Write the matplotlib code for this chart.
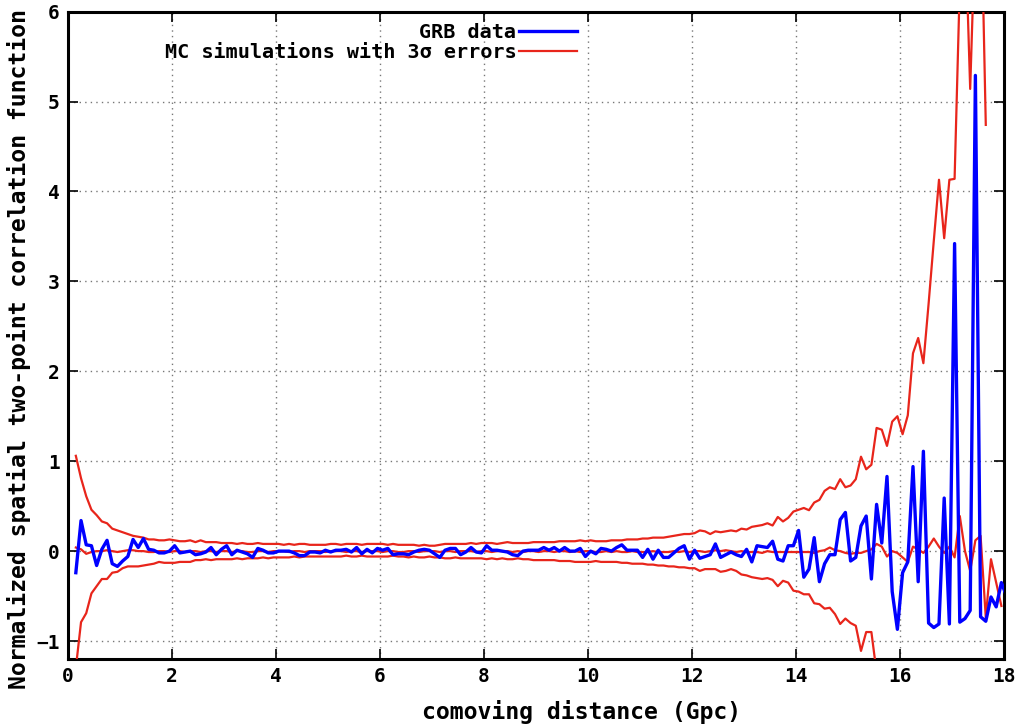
import numpy as np
import matplotlib
matplotlib.use('Agg')
import matplotlib.pyplot as plt

plt.rcParams['font.family'] = ['DejaVu Sans Mono']

# bin centres of the comoving distance grid (Gpc)
distance = np.round(np.arange(0.15, 18.1, 0.1), 2)

# GRB data, one row per Gpc
grb_data = [
    -0.24, 0.34, 0.07, 0.06, -0.16, 0.02, 0.12, -0.14, -0.17, -0.11,
    -0.06, 0.13, 0.04, 0.14, 0.02, 0.01, -0.02, -0.02, 0.00, 0.06,
    -0.02, -0.01, 0.00, -0.04, -0.03, -0.01, 0.04, -0.04, 0.02, 0.06,
    -0.04, 0.01, -0.01, -0.03, -0.07, 0.03, 0.01, -0.02, -0.02, 0.00,
    0.00, 0.00, -0.02, -0.05, -0.05, -0.01, -0.01, -0.02, 0.01, -0.01,
    0.01, 0.01, 0.02, -0.01, 0.04, -0.03, 0.02, -0.02, 0.03, 0.01,
    0.03, -0.04, -0.03, -0.03, -0.04, -0.01, 0.01, 0.02, 0.01, -0.03,
    -0.07, 0.01, 0.03, 0.03, -0.04, -0.01, 0.04, -0.01, -0.02, 0.06,
    0.01, 0.01, 0.00, -0.01, -0.04, -0.05, 0.00, 0.01, 0.01, 0.01,
    0.04, 0.01, 0.04, 0.00, 0.04, 0.00, 0.00, 0.03, -0.06, 0.00,
    -0.03, 0.03, 0.02, 0.00, 0.04, 0.07, 0.01, 0.01, 0.01, -0.07,
    0.02, -0.09, 0.01, -0.07, -0.07, -0.02, 0.03, 0.06, -0.09, 0.01,
    -0.08, -0.06, -0.04, 0.08, -0.07, -0.04, -0.01, -0.04, -0.06, 0.02,
    -0.12, 0.06, 0.05, 0.04, 0.11, -0.09, -0.11, 0.06, 0.06, 0.23,
    -0.29, -0.20, 0.15, -0.34, -0.14, -0.04, -0.04, 0.35, 0.43, -0.11,
    -0.07, 0.28, 0.39, -0.31, 0.52, 0.09, 0.83, -0.45, -0.87, -0.24,
    -0.12, 0.94, -0.34, 1.11, -0.80, -0.85, -0.81, 0.59, -0.81, 3.42,
    -0.79, -0.75, -0.66, 5.29, -0.73, -0.78, -0.51, -0.62, -0.35, -0.50,
]

# MC simulations: mean and +/- 3 sigma envelopes
mc_upper = [
    1.06, 0.81, 0.61, 0.46, 0.40, 0.33, 0.31, 0.25, 0.23, 0.21,
    0.19, 0.17, 0.16, 0.15, 0.13, 0.13, 0.12, 0.12, 0.13, 0.12,
    0.11, 0.11, 0.12, 0.10, 0.12, 0.10, 0.10, 0.10, 0.09, 0.09,
    0.09, 0.08, 0.09, 0.08, 0.08, 0.09, 0.08, 0.08, 0.08, 0.08,
    0.07, 0.08, 0.07, 0.08, 0.08, 0.07, 0.07, 0.07, 0.07, 0.08,
    0.08, 0.07, 0.08, 0.08, 0.08, 0.07, 0.08, 0.08, 0.08, 0.08,
    0.07, 0.08, 0.07, 0.07, 0.07, 0.07, 0.06, 0.07, 0.06, 0.06,
    0.07, 0.08, 0.08, 0.08, 0.08, 0.08, 0.09, 0.08, 0.09, 0.09,
    0.09, 0.08, 0.09, 0.10, 0.09, 0.09, 0.09, 0.09, 0.10, 0.10,
    0.10, 0.10, 0.10, 0.11, 0.11, 0.11, 0.11, 0.12, 0.11, 0.12,
    0.11, 0.11, 0.11, 0.12, 0.12, 0.12, 0.13, 0.13, 0.13, 0.14,
    0.14, 0.15, 0.15, 0.15, 0.16, 0.17, 0.18, 0.19, 0.19, 0.20,
    0.23, 0.22, 0.19, 0.22, 0.21, 0.22, 0.23, 0.22, 0.25, 0.24,
    0.27, 0.28, 0.29, 0.31, 0.285, 0.38, 0.33, 0.37, 0.44, 0.46,
    0.48, 0.455, 0.54, 0.57, 0.67, 0.71, 0.69, 0.80, 0.71, 0.73,
    0.80, 1.05, 0.91, 0.96, 1.37, 1.35, 1.17, 1.44, 1.50, 1.30,
    1.51, 2.20, 2.37, 2.09, 2.75, 3.45, 4.13, 3.48, 4.13, 4.14,
    6.3, 7.0, 5.14, 7.0, 7.5, 4.74, np.nan, np.nan, np.nan, np.nan,
]

mc_mean = [
    0.04, 0.02, -0.03, -0.01, 0.00, 0.00, 0.01, 0.00, -0.01, 0.00,
    0.01, 0.01, 0.00, 0.00, -0.01, -0.01, 0.00, 0.00, -0.01, 0.00,
    0.00, -0.01, 0.00, 0.00, -0.01, 0.00, 0.00, -0.01, 0.00, 0.00,
    -0.01, 0.00, 0.00, -0.01, -0.01, 0.00, 0.00, -0.01, 0.00, 0.00,
    0.00, -0.01, 0.00, 0.00, -0.01, 0.00, 0.00, 0.00, -0.01, 0.00,
    0.00, 0.00, -0.01, 0.00, 0.00, -0.01, 0.00, 0.00, 0.00, -0.01,
    0.00, 0.00, -0.01, -0.01, 0.00, 0.00, -0.01, 0.00, 0.00, 0.00,
    -0.01, 0.00, 0.00, -0.01, 0.00, 0.00, 0.00, -0.01, 0.00, 0.00,
    -0.01, 0.00, 0.00, 0.00, -0.01, 0.00, -0.01, 0.00, 0.00, -0.01,
    0.00, 0.00, -0.01, 0.00, 0.00, -0.01, 0.00, -0.01, 0.00, 0.00,
    -0.01, -0.01, 0.00, -0.01, 0.00, -0.01, -0.01, 0.00, -0.01, -0.01,
    -0.01, 0.00, -0.01, -0.01, -0.01, 0.00, -0.01, 0.00, -0.01, 0.00,
    0.00, -0.01, 0.00, 0.01, 0.00, 0.01, 0.00, -0.01, 0.00, -0.01,
    -0.01, -0.01, -0.02, 0.00, -0.01, -0.01, -0.01, -0.01, -0.01, -0.01,
    -0.01, -0.01, -0.02, 0.00, 0.01, 0.04, 0.01, 0.00, -0.02, -0.03,
    -0.02, -0.02, 0.00, 0.02, 0.08, 0.05, -0.06, 0.00, -0.02, -0.07,
    -0.12, 0.05, 0.02, -0.02, 0.05, 0.14, 0.05, -0.02, 0.05, -0.07,
    0.39, 0.00, -0.22, 0.12, 0.17, -0.74, -0.09, -0.35, -0.61, np.nan,
]

mc_lower = [
    -1.30, -0.79, -0.69, -0.47, -0.39, -0.31, -0.31, -0.24, -0.23, -0.19,
    -0.17, -0.17, -0.17, -0.16, -0.15, -0.14, -0.12, -0.13, -0.13, -0.13,
    -0.12, -0.12, -0.12, -0.10, -0.10, -0.09, -0.10, -0.09, -0.09, -0.09,
    -0.09, -0.08, -0.09, -0.08, -0.08, -0.08, -0.07, -0.08, -0.07, -0.07,
    -0.07, -0.07, -0.06, -0.07, -0.06, -0.06, -0.06, -0.06, -0.06, -0.06,
    -0.06, -0.06, -0.05, -0.06, -0.06, -0.05, -0.06, -0.06, -0.06, -0.06,
    -0.06, -0.05, -0.06, -0.06, -0.07, -0.06, -0.07, -0.07, -0.06, -0.07,
    -0.07, -0.08, -0.08, -0.07, -0.08, -0.08, -0.08, -0.08, -0.08, -0.09,
    -0.08, -0.09, -0.08, -0.09, -0.09, -0.08, -0.09, -0.09, -0.10, -0.10,
    -0.10, -0.10, -0.10, -0.11, -0.11, -0.11, -0.12, -0.12, -0.12, -0.12,
    -0.11, -0.12, -0.12, -0.12, -0.12, -0.13, -0.13, -0.14, -0.14, -0.14,
    -0.15, -0.15, -0.16, -0.16, -0.17, -0.17, -0.18, -0.18, -0.19, -0.19,
    -0.22, -0.20, -0.20, -0.20, -0.23, -0.22, -0.20, -0.22, -0.26, -0.27,
    -0.29, -0.30, -0.31, -0.30, -0.32, -0.39, -0.33, -0.35, -0.44, -0.45,
    -0.48, -0.48, -0.58, -0.59, -0.64, -0.63, -0.70, -0.81, -0.75, -0.80,
    -0.83, -1.11, -0.90, -0.90, -1.35, np.nan, np.nan, np.nan, np.nan, np.nan,
    np.nan, np.nan, np.nan, np.nan, np.nan, np.nan, np.nan, np.nan, np.nan, np.nan,
    np.nan, np.nan, np.nan, np.nan, np.nan, np.nan, np.nan, np.nan, np.nan, np.nan,
]

x_ticks = [0, 2, 4, 6, 8, 10, 12, 14, 16, 18]
y_ticks = [-1, 0, 1, 2, 3, 4, 5, 6]

RED = '#e8251b'
BLUE = '#0000ff'

fig = plt.figure(figsize=(10.2, 7.25), dpi=100)
ax = fig.add_axes([0.0667, 0.091, 0.9176, 0.893])

ax.plot(distance, grb_data, color=BLUE, lw=2.4, zorder=4, label='GRB data')
ax.plot(distance, mc_upper, color=RED, lw=1.6, zorder=3,
        label='MC simulations with 3σ errors')
ax.plot(distance, mc_mean, color=RED, lw=1.6, zorder=3)
ax.plot(distance, mc_lower, color=RED, lw=1.6, zorder=3)

ax.set_xlim(0, 18)
ax.set_ylim(-1.2, 6)
ax.set_xticks(x_ticks)
ax.set_yticks(y_ticks)

ax.grid(True, color='#777777', linestyle=(0, (1, 3)), lw=1.0)
ax.tick_params(direction='in', length=7, width=1.2, top=True, right=True,
               labelsize=14, pad=6)
for lab in ax.get_xticklabels() + ax.get_yticklabels():
    lab.set_fontweight('bold')
for sp in ax.spines.values():
    sp.set_linewidth(2.2)

ax.set_xlabel('comoving distance (Gpc)', fontsize=16.7, fontweight='bold')
ax.set_ylabel('Normalized spatial two-point correlation function', fontsize=16.7,
              fontweight='bold')
ax.xaxis.set_label_coords(0.549, -0.064)
ax.yaxis.set_label_coords(-0.040, 0.478)

leg = ax.legend(loc='upper right', bbox_to_anchor=(0.563, 1.011), frameon=False,
                markerfirst=False, handlelength=2.85, handletextpad=0.15,
                labelspacing=0.05, prop={'size': 14.5, 'weight': 'bold'})

fig.savefig('out.png', dpi=100)
